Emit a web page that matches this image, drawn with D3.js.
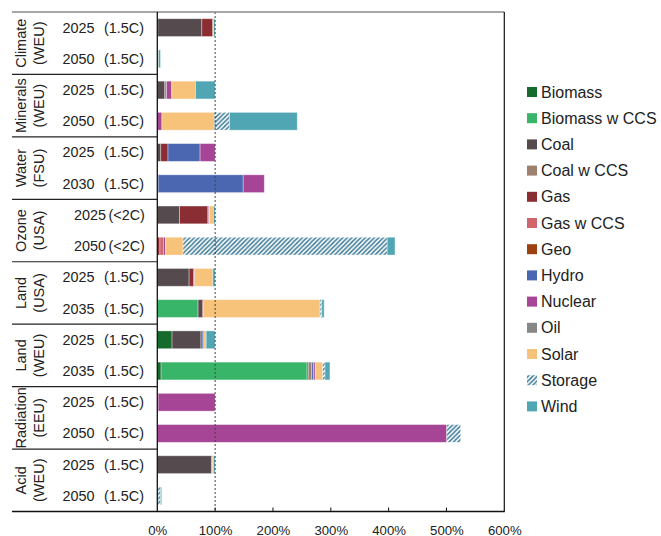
<!DOCTYPE html>
<html>
<head>
<meta charset="utf-8">
<script src="https://cdn.jsdelivr.net/npm/d3@7"></script>
<style>
  body { margin: 0; background: #fff; }
  svg { display: block; font-family: "Liberation Sans", Arial, sans-serif; }
</style>
</head>
<body>
<svg id="chart" width="661" height="536"></svg>
<script>
// ---- DATA ----
const groups = ["Climate|(WEU)", "Minerals|(WEU)", "Water|(FSU)", "Ozone|(USA)", "Land|(USA)", "Land|(WEU)", "Radiation|(EEU)", "Acid|(WEU)"];
const years = ["2025","2050","2025","2050","2025","2030","2025","2050","2025","2035","2025","2035","2025","2050","2025","2050"];
const scenarios = ["(1.5C)","(1.5C)","(1.5C)","(1.5C)","(1.5C)","(1.5C)","(<2C)","(<2C)","(1.5C)","(1.5C)","(1.5C)","(1.5C)","(1.5C)","(1.5C)","(1.5C)","(1.5C)"];
const technologies = ["Biomass","Biomass w CCS","Coal","Coal w CCS","Gas","Gas w CCS","Geo","Hydro","Nuclear","Oil","Solar","Storage","Wind"];
const biomass      = [1,0,0,0,0,0,0,0,0,0,25.5,6.5,0,0,0,0];
const biomassCCS   = [0,0,0,0,0,0,0,0,0,70.5,0,252.5,0,0,0,0];
const coal         = [76,0,13,0,6,0,38.5,0,55,7.5,50,2,1.5,0,93.5,0];
const coalCCS      = [0,0,3,0,0,0,0,0,0,0,0,6,0,0,0,0];
const gas          = [19,0,0,0,12.5,1.5,49,4.5,8,2,0,0,0,0,0,0];
const gasCCS       = [0,0,0,0,0,0,1,6,0,0,0,0,0,0,2,0];
const geo          = [0,0,0,0,0,0,0,0,0,0,0,0,0,0,0,0];
const hydro        = [0,0,0,0,55.5,147,0,0,0,0,3.5,3,0,0,0,0];
const nuclear      = [0,0,9,8,26,36.5,1.5,3.5,1.5,0,1.5,3,98.5,500.5,0,0];
const oil          = [0,0,0,0,0,0,0,0,0,0,0,0,0,0,0,0];
const solar        = [1.5,2,41,90.5,0,0,7,30.5,31.5,201.5,4,13,0,0,1.5,1];
const storage      = [0,0,0,26.5,0,0,0,353,0,3,0,4,0,24,0,4.5];
const wind         = [2.5,3.5,34,117,0,0,3,13.5,4,4,15.5,8.5,0,0,3,2];
const xTicks = [0,100,200,300,400,500,600];

const seriesValues = [biomass, biomassCCS, coal, coalCCS, gas, gasCCS, geo, hydro, nuclear, oil, solar, storage, wind];
const colors = ["#146b2c","#39b56a","#554b4f","#9d8070","#8a2e33","#d0656e","#9c4110","#4c67b1","#a64596","#878787","#f7c37a","url(#hatch)","#51a6b4"];

// ---- BUILD ----
const svg = d3.select("#chart");
const defs = svg.append("defs");
const pat = defs.append("pattern").attr("id","hatch").attr("patternUnits","userSpaceOnUse")
  .attr("width",4.5).attr("height",4.5);
pat.append("rect").attr("width",4.5).attr("height",4.5).attr("fill","#ffffff");
pat.append("path").attr("d","M-1,1 L1,-1 M0,4.5 L4.5,0 M3.5,5.5 L5.5,3.5")
  .attr("stroke","#3e7c98").attr("stroke-width",1.5);

const yTop = 12, yBottom = 511.5, xLeft = 157.3, xRight = 504.3;
const rows = d3.range(years.length);

const x = d3.scaleLinear().domain([0,600]).range([xLeft,xRight]);
const y = d3.scaleBand().domain(rows).range([yTop,yBottom]).paddingInner(0.43).paddingOuter(0.215);
const color = d3.scaleOrdinal().domain(technologies).range(colors);

const table = rows.map(i => {
  const o = {row:i};
  technologies.forEach((t,k) => o[t] = seriesValues[k][i]);
  return o;
});
const stacked = d3.stack().keys(technologies)(table);

// bars
const layers = svg.append("g").selectAll("g").data(stacked).join("g")
  .attr("fill", d => color(d.key));
layers.selectAll("rect").data(d => d.filter(s => s[1]-s[0] > 0)).join("rect")
  .attr("x", d => x(d[0]))
  .attr("y", d => y(d.data.row))
  .attr("width", d => x(d[1]) - x(d[0]))
  .attr("height", y.bandwidth())
  .attr("stroke","#ffffff").attr("stroke-opacity",0.45).attr("stroke-width",0.8);

// 100% reference line
svg.append("line").attr("x1",x(100)).attr("x2",x(100)).attr("y1",yTop).attr("y2",yBottom)
  .attr("stroke","#444").attr("stroke-width",1).attr("stroke-dasharray","2,2");

// frame
svg.append("line").attr("x1",12).attr("x2",xRight).attr("y1",yTop).attr("y2",yTop)
  .attr("stroke","#888").attr("stroke-width",1.5);
svg.append("line").attr("x1",12).attr("x2",xRight+0.5).attr("y1",yBottom).attr("y2",yBottom)
  .attr("stroke","#111").attr("stroke-width",1.3);
svg.append("line").attr("x1",xLeft).attr("x2",xLeft).attr("y1",yTop).attr("y2",yBottom)
  .attr("stroke","#111").attr("stroke-width",1.3);
svg.append("line").attr("x1",xRight).attr("x2",xRight).attr("y1",yTop).attr("y2",yBottom)
  .attr("stroke","#111").attr("stroke-width",1.2);

// group separators and labels
const step = y.step();
groups.forEach((g,i) => {
  if (i > 0) {
    const yy = yTop + i*2*step;
    svg.append("line").attr("x1",12).attr("x2",xLeft).attr("y1",yy).attr("y2",yy)
      .attr("stroke", "#222").attr("stroke-width",1.2);
  }
  const cy = yTop + (i*2+1)*step;
  const parts = g.split("|");
  svg.append("text").attr("transform",`translate(21,${cy}) rotate(-90)`)
    .attr("text-anchor","middle").attr("dominant-baseline","central")
    .attr("font-size",14.5).attr("fill","#222").text(parts[0]);
  svg.append("text").attr("transform",`translate(38.5,${cy}) rotate(-90)`)
    .attr("text-anchor","middle").attr("dominant-baseline","central")
    .attr("font-size",14.5).attr("fill","#222").text(parts[1]);
});

// row labels
rows.forEach(i => {
  const cy = y(i) + y.bandwidth()/2 + 5;
  const narrow = scenarios[i] === "(<2C)";
  svg.append("text").attr("x", narrow ? 106 : 94.5).attr("y", cy)
    .attr("text-anchor","end").attr("font-size",14.4).attr("fill","#222").text(years[i]);
  svg.append("text").attr("x", narrow ? 108.5 : 104).attr("y", cy)
    .attr("text-anchor","start").attr("font-size",14.4).attr("fill","#222").text(scenarios[i]);
});

// x axis
const xAxis = d3.axisBottom(x).tickValues(xTicks).tickSize(0).tickPadding(0).tickFormat(d => d + "%");
const ax = svg.append("g").attr("transform",`translate(0,${yBottom})`).call(xAxis);
ax.select(".domain").remove();
ax.selectAll("text").attr("y",23).attr("dy",0).attr("font-size",13.2).attr("fill","#222")
  .attr("font-family","'Liberation Sans', Arial, sans-serif");
svg.append("g").selectAll("line").data(xTicks.filter(t => t > 0 && t < 600)).join("line")
  .attr("x1", d => x(d)).attr("x2", d => x(d)).attr("y1", yBottom-4).attr("y2", yBottom)
  .attr("stroke","#111").attr("stroke-width",1);

// legend
const lg = svg.append("g");
technologies.forEach((t,i) => {
  const yy = 92 + i*26.2;
  lg.append("rect").attr("x",527).attr("y",yy-5).attr("width",10).attr("height",10).attr("fill",color(t));
  lg.append("text").attr("x",541).attr("y",yy+5.5).attr("font-size",16).attr("fill","#222").text(t);
});
</script>
</body>
</html>
